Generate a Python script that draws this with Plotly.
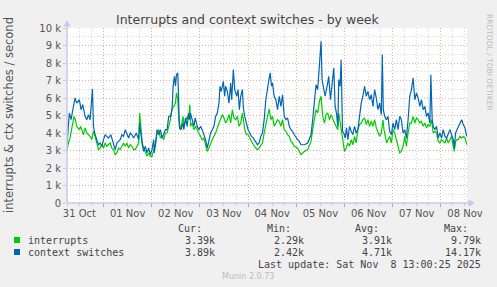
import pandas as pd
import plotly.graph_objects as go

# ---------------- data ----------------
start = pd.Timestamp("2025-10-31 05:50")
end = pd.Timestamp("2025-11-08 13:00")

# hours since start, values in thousands per second
int_hours = [0, 0.67, 1.5, 2.0, 2.83, 3.5, 4.17, 4.83, 5.5, 6.17, 6.83, 7.5, 8.17, 9.0, 9.83, 10.67, 11.5, 12.33,
             13.17, 14.0, 14.83, 15.67, 16.5, 17.33, 18.17, 19.0, 19.83, 20.67, 21.5, 22.33, 23.17, 24.0, 24.83,
             25.67, 26.5, 27.33, 28.17, 29.0, 29.83, 30.67, 31.5, 32.33, 33.17, 34.0, 34.83, 35.67, 36.17, 36.83,
             37.5, 38.17, 39.0, 39.83, 40.67, 41.5, 42.33, 43.17, 44.0, 44.83, 45.67, 46.5, 47.33, 48.17, 49.0,
             49.83, 50.67, 51.5, 52.33, 53.17, 54.0, 54.5, 55.17, 55.67, 56.5, 57.33, 57.83, 58.17, 59.0, 59.83,
             60.5, 61.17, 61.5, 62.33, 63.17, 64.0, 64.83, 65.67, 66.5, 67.33, 68.17, 69.0, 69.83, 70.67, 71.5,
             72.33, 73.17, 74.0, 74.83, 75.67, 76.5, 77.33, 78.17, 79.0, 79.83, 80.67, 81.5, 82.33, 83.17, 84.0,
             84.83, 85.67, 86.5, 87.33, 87.83, 88.5, 89.33, 90.17, 91.0, 91.83, 92.83, 94.0, 94.83, 95.67, 96.5,
             97.33, 98.17, 99.0, 99.83, 100.67, 101.5, 102.33, 103.17, 104.0, 104.83, 105.67, 106.5, 107.33,
             108.17, 109.0, 109.83, 110.67, 111.5, 112.33, 113.17, 114.83, 115.67, 116.5, 117.33, 118.17, 119.83,
             120.67, 121.5, 122.33, 123.17, 124.0, 124.83, 125.67, 126.5, 127.33, 128.17, 129.0, 129.83, 130.67,
             131.5, 132.33, 133.17, 134.0, 134.83, 135.33, 136.0, 136.83, 137.33, 138.17, 139.0, 139.83, 140.67,
             141.5, 142.33, 143.17, 144.0, 144.83, 145.67, 146.5, 147.33, 148.17, 149.0, 149.83, 150.67, 151.5,
             152.33, 153.17, 154.0, 154.83, 155.67, 156.5, 157.33, 157.83, 158.5, 159.17, 159.83, 160.67, 161.5,
             162.33, 163.17, 164.0, 164.83, 165.67, 166.5, 167.33, 168.17, 169.0, 169.83, 170.67, 171.5, 172.33,
             173.17, 174.0, 174.83, 175.67, 176.5, 177.33, 178.17, 179.0, 179.83, 180.67, 181.5, 182.33, 183.17,
             184.0, 184.83, 185.67, 186.5, 187.33, 188.17, 189.0, 189.83, 190.67, 191.5, 192.33, 192.83, 193.5,
             194.17, 194.83, 195.67, 196.5, 197.33, 198.17, 199.0, 199.5]
interrupts = [2.95, 3.43, 3.71, 4.0, 4.38, 4.95, 4.76, 4.38, 4.29, 4.19, 4.38, 4.10, 3.90, 4.29, 4.0, 3.90, 3.81, 3.62,
              4.10, 3.81, 3.43, 3.05, 3.14, 3.33, 3.14, 3.43, 3.24, 3.33, 3.43, 3.14, 3.05, 2.76, 2.86,
              3.14, 3.05, 3.24, 3.43, 3.24, 3.43, 3.14, 3.33, 3.24, 3.05, 3.05, 3.24, 3.43, 5.14, 4.38,
              3.43, 3.14, 2.86, 2.67, 2.86, 2.67, 2.67, 3.05, 3.24, 4.0, 4.19, 3.71, 3.81, 3.62, 4.0,
              4.0, 4.38, 4.76, 5.43, 5.52, 5.71, 6.29, 5.90, 4.76, 4.19, 4.76, 4.95, 4.38, 4.67, 4.95,
              4.76, 5.62, 4.38, 4.57, 4.19, 4.38, 4.19, 4.0, 3.90, 3.62, 3.71, 3.33, 2.95, 3.14, 3.43,
              3.62, 3.81, 4.0, 4.29, 4.57, 4.76, 5.05, 4.86, 4.57, 4.76, 5.05, 4.57, 5.33, 4.86, 4.76,
              4.95, 4.38, 4.57, 5.14, 4.76, 4.19, 3.90, 3.90, 3.71, 3.52, 3.33, 3.14, 3.05, 3.14, 3.33,
              3.43, 4.0, 4.57, 4.95, 5.37, 4.76, 4.95, 4.38, 4.57, 4.76, 4.67, 4.38, 4.76,
              4.19, 4.10, 3.90, 3.81, 3.52, 3.43, 3.24, 3.14, 2.95, 2.76, 2.86, 2.95, 3.05,
              3.24, 3.52, 4.19, 4.76, 5.33, 5.14, 5.81, 6.10, 4.95, 4.57, 5.05, 5.14, 4.76,
              5.05, 4.76, 4.57, 4.38, 4.19, 5.14, 4.57, 3.90, 3.43, 2.95, 3.14, 3.43, 3.24,
              3.62, 3.33, 3.81, 3.43, 4.19, 4.48, 4.57, 4.76, 4.86, 4.48, 4.76, 4.38, 4.67,
              4.38, 4.76, 4.29, 4.0, 3.81, 4.0, 4.76, 4.19, 3.71, 3.43, 3.62, 3.81, 3.43,
              4.19, 4.0, 3.62, 3.33, 2.86, 2.95, 3.24, 3.81, 3.24, 4.0, 4.57, 4.57, 4.95,
              4.57, 4.86, 4.76, 4.57, 4.67, 4.38, 4.57, 4.29, 4.48, 4.38, 4.76, 4.0, 4.10,
              4.0, 3.52, 3.43, 3.62, 3.52, 3.43, 3.71, 3.43, 3.62, 3.81, 3.24, 2.95, 3.52,
              3.62, 3.62, 3.81, 3.71, 3.81, 3.71, 3.43, 3.24]

ctx_hours = [0, 1.17, 2.0, 3.17, 4.0, 4.83, 6.17, 7.0, 7.83, 9.0, 9.83, 10.67, 11.5, 12.67, 13.17, 14.0, 15.67,
             16.5, 17.33, 18.17, 19.0, 19.83, 20.67, 21.83, 23.17, 24.0, 24.83, 26.5, 27.33, 28.17, 29.0, 29.83,
             30.67, 31.5, 32.33, 33.17, 34.5, 35.67, 36.17, 37.33, 38.17, 39.0, 39.83, 40.67, 41.5, 42.33, 43.17,
             43.5, 44.83, 45.67, 46.5, 47.33, 49.0, 49.83, 50.67, 51.5, 52.33, 52.83, 53.5, 54.0, 54.5, 55.17,
             55.5, 56.0, 56.83, 57.67, 58.17, 59.0, 59.83, 60.5, 61.17, 61.5, 62.33, 63.17, 63.83, 64.83, 65.67,
             66.5, 67.33, 68.17, 69.0, 69.83, 70.67, 71.5, 72.33, 73.17, 74.0, 74.83, 75.67, 76.17, 76.83, 77.83,
             78.5, 79.0, 79.83, 80.67, 81.5, 82.0, 82.83, 83.5, 84.5, 85.17, 85.83, 86.5, 87.33, 87.83, 88.5,
             89.17, 90.17, 91.0, 91.83, 92.83, 94.0, 94.83, 95.67, 96.5,
             97.33, 98.17, 99.0, 99.83, 100.67, 101.17, 101.83, 102.33, 103.17, 104.0, 104.83, 105.67, 106.5,
             107.33, 108.17, 109.0, 109.83, 110.67, 111.5, 112.33, 113.17, 114.83, 115.67, 116.5, 118.17, 119.83,
             120.67, 121.5, 122.33, 123.17, 124.0, 124.83, 125.67, 126.5, 127.0, 127.83, 128.5, 129.5, 130.33,
             131.17, 132.0, 132.83, 133.5, 134.17, 134.83, 135.33, 136.0, 136.5, 137.17, 137.83, 138.5, 139.17,
             139.83, 140.67, 141.5, 142.33, 143.17, 144.0, 144.83, 145.67, 146.5, 147.33, 148.17, 149.0, 149.83,
             150.67, 151.5, 152.33, 153.17, 154.0, 154.83, 155.67, 156.5, 157.0, 157.5, 158.17, 159.0, 159.83,
             160.67, 161.5, 162.33, 163.17, 164.0, 164.83, 165.67, 166.5, 167.33, 168.17, 169.0, 169.83, 170.67,
             171.5, 172.33, 173.17, 174.0, 174.83, 175.67, 176.5, 177.33, 178.17, 179.0, 179.83, 180.67, 181.17,
             181.83, 182.33, 183.17, 184.0, 184.83, 185.67, 186.5, 187.33, 188.17, 189.0, 189.83, 190.67, 191.5,
             192.33, 192.83, 193.5, 194.17, 194.83, 195.67, 196.5, 197.33, 198.17, 199.0, 199.5]
ctx_switches = [3.33, 5.14, 4.76, 5.43, 6.0, 5.71, 5.90, 5.33, 5.62, 4.95, 4.76, 5.05, 4.76, 6.51, 4.38, 3.90, 3.33,
                3.43, 3.24, 3.62, 3.90, 3.81, 3.71, 3.90, 3.33, 3.05, 3.43, 3.62, 3.90, 3.81, 4.19, 3.90,
                3.71, 4.0, 3.90, 3.71, 4.0, 3.62, 4.57, 3.43, 2.95, 3.24, 2.86, 3.14, 2.76, 3.05, 3.62,
                2.86, 4.19, 3.90, 4.19, 3.71, 4.19, 4.19, 4.95, 4.95, 5.33, 6.67, 7.24, 6.67, 7.33, 7.43,
                5.90, 4.29, 4.19, 4.57, 4.19, 4.86, 4.38, 5.14, 4.76, 5.14, 4.76, 4.38, 4.86, 4.38, 4.19,
                4.38, 4.19, 3.90, 3.62, 3.14, 3.62, 4.0, 4.19, 4.38, 4.95, 5.14, 5.71, 6.67, 6.38, 6.95,
                6.10, 6.67, 6.38, 5.71, 6.86, 5.90, 7.62, 6.48, 6.10, 6.48, 5.33, 6.10, 6.48, 5.43, 4.95,
                4.57, 4.19, 4.0, 3.81, 3.71, 3.52, 3.33, 3.43, 3.81,
                4.0, 4.76, 5.90, 6.67, 7.14, 7.43, 6.67, 6.86, 6.10, 5.90, 5.33, 6.10, 5.52,
                6.19, 4.95, 4.76, 4.86, 4.38, 4.19, 4.10, 3.90, 3.62, 3.52, 3.33, 3.33, 3.43,
                3.62, 3.90, 4.76, 5.90, 6.76, 6.48, 7.62, 9.24, 7.05, 6.48, 6.10, 6.67, 7.24,
                5.90, 6.67, 7.71, 5.52, 5.14, 4.38, 7.05, 6.67, 8.19, 4.10, 4.0, 3.71, 4.29,
                3.62, 4.38, 4.10, 3.90, 4.38, 4.0, 4.19, 5.14, 5.71, 6.10, 6.67, 6.10, 6.38,
                5.90, 6.19, 5.52, 6.48, 6.0, 5.33, 5.71, 5.05, 8.48, 5.33, 4.95, 4.76, 4.95,
                4.10, 3.90, 4.57, 4.19, 4.76, 4.19, 4.95, 4.76, 4.0, 4.19, 3.71, 4.76, 6.10,
                6.48, 7.14, 5.90, 6.29, 6.0, 5.52, 5.90, 5.33, 5.52, 4.95, 5.14, 4.57, 7.33,
                4.76, 4.38, 4.19, 4.38, 3.71, 4.0, 3.71, 4.19, 3.81, 3.71, 4.0, 4.19, 3.90,
                3.62, 3.14, 4.0, 4.19, 4.38, 4.57, 4.76, 4.48, 4.29, 3.81, 3.90]

series_names = ["interrupts", "context switches"]
series_colors = ["#00CC00", "#0066B3"]
cur_vals = ["3.39k", "3.89k"]
min_vals = ["2.29k", "2.42k"]
avg_vals = ["3.91k", "4.71k"]
max_vals = ["9.79k", "14.17k"]

y_tickvals = list(range(0, 11))
y_ticktext = ["0"] + [f"{v} k" for v in range(1, 11)]
day_labels = ["31 Oct", "01 Nov", "02 Nov", "03 Nov", "04 Nov", "05 Nov", "06 Nov", "07 Nov", "08 Nov"]
label_times = pd.date_range("2025-10-31 12:00", periods=9, freq="D")

title = "Interrupts and context switches - by week"
y_title = "interrupts & ctx switches / second"
last_update = "Last update: Sat Nov  8 13:00:25 2025"

# ---------------- figure ----------------
W, H = 497, 287
L, R, T, B = 67, 467, 28, 203


def px(x):
    return (x - L) / (R - L)


def py(y):
    return (B - y) / (B - T)


int_times = [start + pd.Timedelta(hours=h) for h in int_hours]
ctx_times = [start + pd.Timedelta(hours=h) for h in ctx_hours]

fig = go.Figure()
fig.add_trace(go.Scatter(x=int_times, y=interrupts, mode="lines", name=series_names[0],
                         line=dict(color=series_colors[0], width=1.2)))
fig.add_trace(go.Scatter(x=ctx_times, y=ctx_switches, mode="lines", name=series_names[1],
                         line=dict(color=series_colors[1], width=1.2)))

tick_font = dict(family="DejaVu Sans", size=10, color="#555555")
red_grid = "rgba(235,140,140,0.6)"
gray_grid = "rgba(190,190,190,0.6)"

fig.update_layout(
    width=W, height=H,
    margin=dict(l=L, r=W - R, t=T, b=H - B),
    paper_bgcolor="#F0F0F0", plot_bgcolor="#FFFFFF",
    showlegend=False,
    xaxis=dict(type="date", range=[start, end],
               tickvals=list(pd.date_range("2025-11-01", periods=8, freq="D")),
               showticklabels=False,
               showgrid=True, gridcolor=red_grid, griddash="1px,2px", gridwidth=1,
               ticks="outside", ticklen=3, tickcolor="#E89090",
               minor=dict(dtick=6 * 3600 * 1000, tick0="2025-11-01", showgrid=True, gridcolor=gray_grid,
                          griddash="1px,2px", gridwidth=1, ticks="outside", ticklen=2, tickcolor="#C8C8C8"),
               showline=False, zeroline=False, fixedrange=True),
    xaxis2=dict(type="date", range=[start, end], overlaying="x", side="bottom", anchor="y",
                tickvals=list(label_times), ticktext=day_labels, showgrid=False,
                tickfont=tick_font, ticks="", ticklabelstandoff=3, showline=False, zeroline=False),
    yaxis=dict(range=[0, 10], tickvals=y_tickvals, ticktext=y_ticktext, tickfont=tick_font,
               showgrid=True, gridcolor=red_grid, griddash="1px,2px", gridwidth=1,
               ticks="outside", ticklen=3, tickcolor="#C8C8C8",
               minor=dict(dtick=0.5, showgrid=True, gridcolor=gray_grid, griddash="1px,2px", gridwidth=1),
               zeroline=False, showline=False, fixedrange=True),
)
# dummy trace to activate xaxis2
fig.add_trace(go.Scatter(x=[start], y=[None], xaxis="x2", showlegend=False, hoverinfo="skip"))

# axes lines with arrows
axis_col = "#C8C8F0"
fig.add_shape(type="line", xref="paper", yref="paper", x0=0, x1=px(471), y0=0, y1=0,
              line=dict(color=axis_col, width=1.5))
fig.add_shape(type="line", xref="paper", yref="paper", x0=0, x1=0, y0=0, y1=py(24),
              line=dict(color=axis_col, width=1.5))
fig.add_shape(type="path", xref="paper", yref="paper",
              path=f"M {px(469)} {py(200)} L {px(474)} {py(203)} L {px(469)} {py(206)} Z",
              fillcolor=axis_col, line=dict(color=axis_col, width=1))
fig.add_shape(type="path", xref="paper", yref="paper",
              path=f"M {px(64)} {py(26)} L {px(67)} {py(21)} L {px(70)} {py(26)} Z",
              fillcolor=axis_col, line=dict(color=axis_col, width=1))

# title
fig.add_annotation(text=title, xref="paper", yref="paper", x=px(248), y=py(19), showarrow=False,
                   xanchor="center", yanchor="middle",
                   font=dict(family="DejaVu Sans", size=12.5, color="#444444"))
# y title
fig.add_annotation(text=y_title, xref="paper", yref="paper", x=px(9), y=py(115), showarrow=False,
                   textangle=-90, xanchor="center", yanchor="middle",
                   font=dict(family="DejaVu Sans", size=11.5, color="#555555"))
# right side credit
fig.add_annotation(text="RRDTOOL / TOBI OETIKER", xref="paper", yref="paper", x=px(490), y=py(62),
                   showarrow=False, textangle=90, xanchor="center", yanchor="middle",
                   font=dict(family="DejaVu Sans", size=7.5, color="#BBBBBB"))

mono = dict(family="DejaVu Sans Mono", size=10, color="#444444")
headers = ["Cur:", "Min:", "Avg:", "Max:"]
header_right = [204, 293, 381, 470]
value_right = [217, 306, 394, 483]
for h, xr in zip(headers, header_right):
    fig.add_annotation(text=h, xref="paper", yref="paper", x=px(xr), y=py(228), showarrow=False,
                       xanchor="right", yanchor="middle", font=mono)

row_y = [240, 252]
for i in range(2):
    fig.add_shape(type="rect", xref="paper", yref="paper",
                  x0=px(14), x1=px(20), y0=py(row_y[i] - 3), y1=py(row_y[i] + 3),
                  fillcolor=series_colors[i], line=dict(width=0))
    fig.add_annotation(text=series_names[i], xref="paper", yref="paper", x=px(26), y=py(row_y[i]),
                       showarrow=False, xanchor="left", yanchor="middle", font=mono)
    for vals, xr in zip([cur_vals, min_vals, avg_vals, max_vals], value_right):
        fig.add_annotation(text=vals[i], xref="paper", yref="paper", x=px(xr), y=py(row_y[i]),
                           showarrow=False, xanchor="right", yanchor="middle", font=mono)

fig.add_annotation(text=last_update.replace("  ", "&nbsp; "), xref="paper", yref="paper", x=px(483), y=py(264),
                   showarrow=False, xanchor="right", yanchor="middle", font=mono)
fig.add_annotation(text="Munin 2.0.73", xref="paper", yref="paper", x=px(248), y=py(276),
                   showarrow=False, xanchor="center", yanchor="middle",
                   font=dict(family="DejaVu Sans", size=8, color="#BBBBBB"))

fig.write_html("out.html")
